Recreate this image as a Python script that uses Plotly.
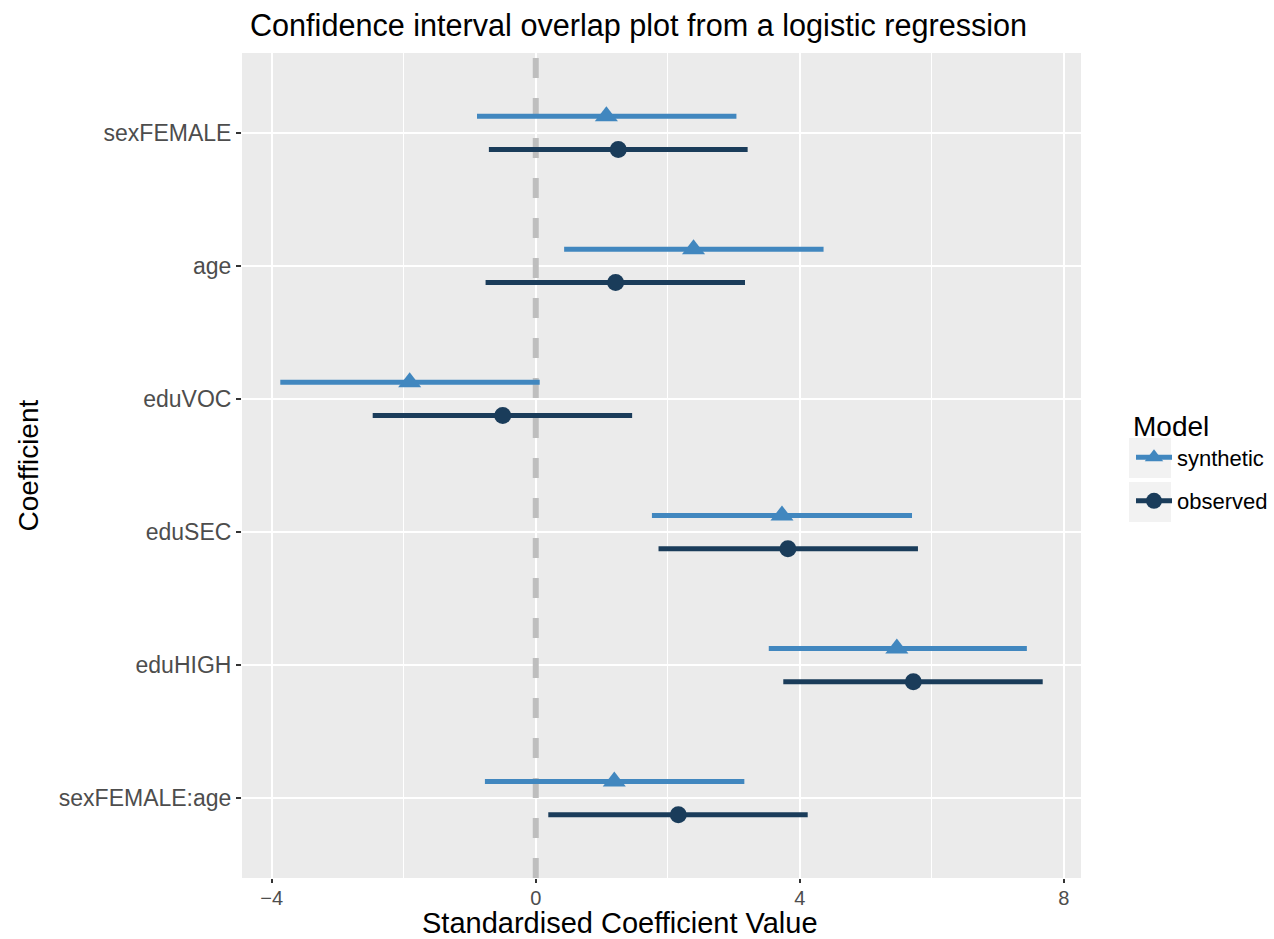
import plotly.graph_objects as go

# ---- data ----
coefficients = ["sexFEMALE", "age", "eduVOC", "eduSEC", "eduHIGH", "sexFEMALE:age"]
synthetic_est = [1.07, 2.39, -1.91, 3.73, 5.47, 1.19]
synthetic_lo = [-0.89, 0.43, -3.87, 1.76, 3.53, -0.77]
synthetic_hi = [3.04, 4.36, 0.06, 5.70, 7.44, 3.16]
observed_est = [1.25, 1.21, -0.50, 3.82, 5.72, 2.16]
observed_lo = [-0.71, -0.76, -2.47, 1.86, 3.75, 0.19]
observed_hi = [3.21, 3.17, 1.46, 5.79, 7.68, 4.12]
x_ticks = [-4, 0, 4, 8]
x_minor = [-2, 2, 6]

C_SYN = "#4187BF"
C_OBS = "#1A3C5A"
FONT = "Liberation Sans, Arial, sans-serif"

n = len(coefficients)
pos = [n - i for i in range(n)]  # top to bottom
dodge = 0.125

W, H = 1274, 939
L, R, T, B = 242, 193, 53, 61
PW, PH = W - L - R, H - T - B

def px_x(p):
    return (p - L) / PW

def px_y(p):
    return (H - B - p) / PH

fig = go.Figure()

# reference line at zero (drawn beneath data)
fig.add_trace(go.Scatter(x=[0, 0], y=[0.4, n + 0.6], mode="lines",
                         line=dict(color="#bebebe", width=6, dash="20px,20px"),
                         showlegend=False, hoverinfo="skip"))

def add_series(name, est, lo, hi, offset, color, symbol, msize):
    xs, ys = [], []
    for p, a, b in zip(pos, lo, hi):
        xs += [a, b, None]
        ys += [p + offset, p + offset, None]
    fig.add_trace(go.Scatter(x=xs, y=ys, mode="lines",
                             line=dict(color=color, width=5),
                             showlegend=False, legendgroup=name))
    fig.add_trace(go.Scatter(x=est, y=[p + offset for p in pos], mode="markers",
                             marker=dict(color=color, symbol=symbol, size=msize),
                             showlegend=False, legendgroup=name))
    fig.add_trace(go.Scatter(x=[None], y=[None], mode="lines+markers", name=name,
                             line=dict(color=color, width=5),
                             marker=dict(color=color, symbol=symbol, size=16),
                             legendgroup=name))

add_series("synthetic", synthetic_est, synthetic_lo, synthetic_hi, dodge, C_SYN, "triangle-up", 20)
add_series("observed", observed_est, observed_lo, observed_hi, -dodge, C_OBS, "circle", 17)

# legend key backgrounds (ggplot style)
shapes = []
for top in (438, 482):
    shapes.append(dict(type="rect", xref="paper", yref="paper",
                       x0=px_x(1129), x1=px_x(1171), y0=px_y(top + 40), y1=px_y(top),
                       fillcolor="#f2f2f2", line=dict(width=0), layer="below"))

fig.update_layout(
    width=W, height=H,
    margin=dict(l=L, r=R, t=T, b=B, autoexpand=False),
    paper_bgcolor="white", plot_bgcolor="#ebebeb",
    font=dict(family=FONT, color="black"),
    title=dict(text="Confidence interval overlap plot from a logistic regression",
               x=250 / W, xanchor="left", xref="container",
               y=1 - 25 / H, yanchor="middle", yref="container",
               font=dict(size=30.6, color="black", family=FONT)),
    xaxis=dict(range=[-4.45, 8.26], tickvals=x_ticks,
               ticktext=["\u22124", "0", "4", "8"],
               showgrid=True, gridcolor="white", gridwidth=2.2,
               minor=dict(tickvals=x_minor, showgrid=True, gridcolor="white", gridwidth=1, ticks=""),
               zeroline=False, showline=False,
               ticks="outside", ticklen=4, tickwidth=2, tickcolor="#333333",
               ticklabelstandoff=-2,
               tickfont=dict(size=20, color="#4d4d4d", family=FONT)),
    yaxis=dict(range=[0.4, n + 0.6], tickvals=pos, ticktext=coefficients,
               showgrid=True, gridcolor="white", gridwidth=2.2,
               zeroline=False, showline=False,
               ticks="outside", ticklen=5, tickwidth=2, tickcolor="#333333",
               tickfont=dict(size=23, color="#4d4d4d", family=FONT)),
    legend=dict(title=dict(text="Model", font=dict(size=28, color="black", family=FONT)),
                font=dict(size=22, color="black", family=FONT),
                x=px_x(1131), xanchor="left", y=px_y(400), yanchor="top",
                itemwidth=36,
                bgcolor="rgba(0,0,0,0)", tracegroupgap=12),
    shapes=shapes,
    annotations=[
        dict(text="Standardised Coefficient Value", x=px_x(620), y=px_y(923),
             xref="paper", yref="paper", xanchor="center", yanchor="middle",
             showarrow=False, font=dict(size=29, color="black", family=FONT)),
        dict(text="Coefficient", x=px_x(28), y=0.5, textangle=-90,
             xref="paper", yref="paper", xanchor="center", yanchor="middle",
             showarrow=False, font=dict(size=28, color="black", family=FONT)),
    ],
)

fig.write_html("out.html")
